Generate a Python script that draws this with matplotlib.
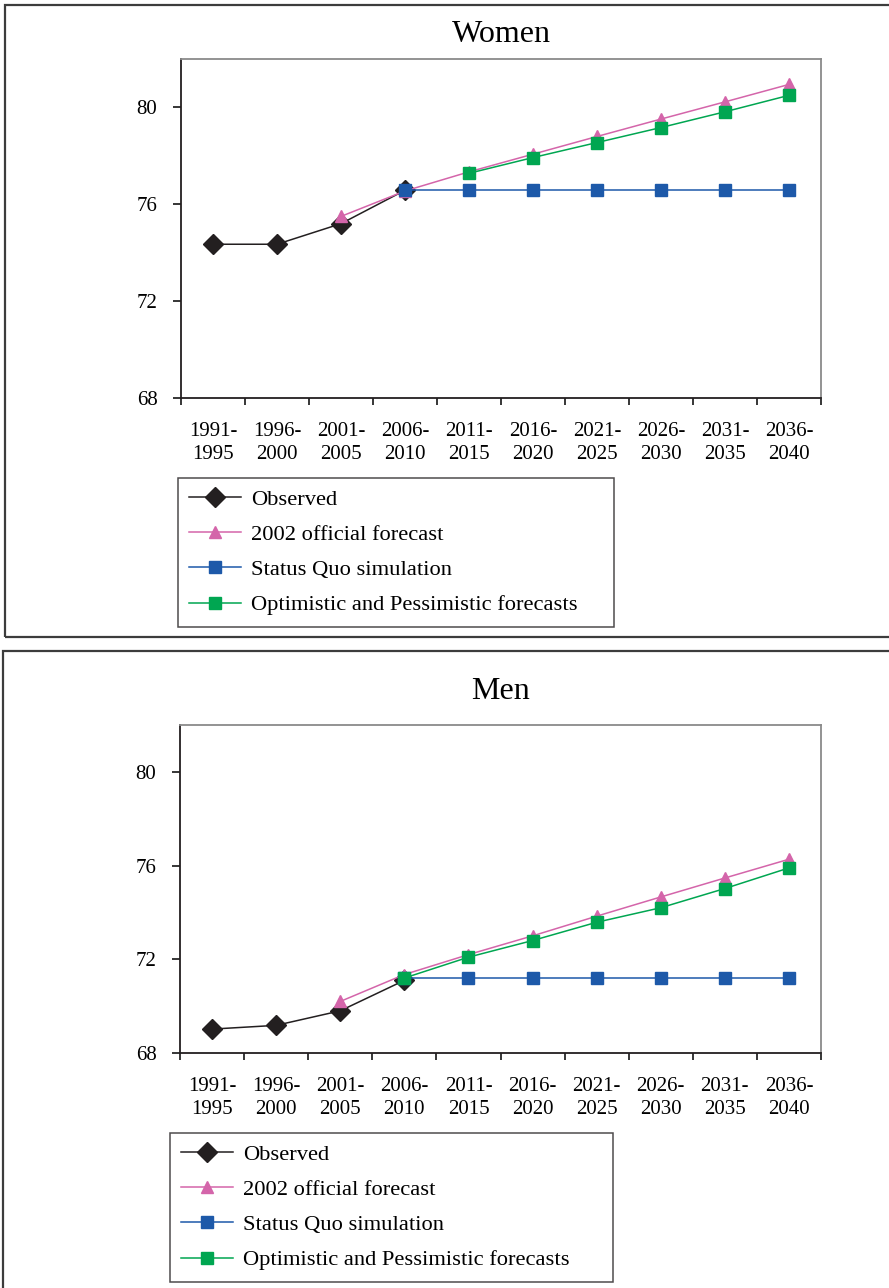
import numpy as np
import matplotlib
matplotlib.use("Agg")
import matplotlib.pyplot as plt
from matplotlib.patches import Rectangle

plt.rcParams["font.family"] = ["Liberation Serif", "DejaVu Serif"]

periods = ["1991-\n1995", "1996-\n2000", "2001-\n2005", "2006-\n2010", "2011-\n2015",
           "2016-\n2020", "2021-\n2025", "2026-\n2030", "2031-\n2035", "2036-\n2040"]

nan = np.nan
# women
w_observed = [74.35, 74.35, 75.2, 76.58, nan, nan, nan, nan, nan, nan]
w_official = [nan, nan, 75.5, 76.55, 77.34, 78.07, 78.8, 79.52, 80.23, 80.95]
w_status_quo = [nan, nan, nan, 76.58, 76.58, 76.58, 76.58, 76.58, 76.58, 76.58]
w_opt_pess = [nan, nan, nan, nan, 77.28, 77.93, 78.55, 79.17, 79.82, 80.5]
# men
m_observed = [69.02, 69.18, 69.8, 71.1, nan, nan, nan, nan, nan, nan]
m_official = [nan, nan, 70.2, 71.35, 72.2, 73.0, 73.84, 74.66, 75.47, 76.27]
m_status_quo = [nan, nan, nan, 71.2, 71.2, 71.2, 71.2, 71.2, 71.2, 71.2]
m_opt_pess = [nan, nan, nan, 71.2, 72.09, 72.8, 73.58, 74.2, 75.02, 75.9]

labels = ["Observed", "2002 official forecast", "Status Quo simulation",
          "Optimistic and Pessimistic forecasts"]
colors = ["#231f20", "#d465aa", "#1d59a9", "#00a651"]
markers = ["D", "^", "s", "s"]
msizes = [10, 9, 8, 8]

fig = plt.figure(figsize=(8.89, 12.88), dpi=100)

# panel frames
fig.patches.append(Rectangle((5 / 889, 1 - 637 / 1288), 900 / 889, 632 / 1288,
                             transform=fig.transFigure, fill=False,
                             edgecolor="#3c3c3c", linewidth=1.6))
fig.patches.append(Rectangle((3 / 889, -0.01), 900 / 889, 1 - 651 / 1288 + 0.01,
                             transform=fig.transFigure, fill=False,
                             edgecolor="#3c3c3c", linewidth=1.6))


def panel(rect, title, series, leg_box, title_pad):
    ax = fig.add_axes(rect)
    x = np.arange(len(periods))
    handles = []
    for vals, lab, c, m, ms in zip(series, labels, colors, markers, msizes):
        h, = ax.plot(x, vals, color=c, marker=m, markersize=ms, linewidth=1.1,
                     label=lab)
        handles.append(h)
    ax.set_xlim(-0.5, 9.5)
    ax.set_ylim(68, 82)
    ax.set_yticks([68, 72, 76, 80])
    ax.set_xticks(np.arange(-0.5, 10, 1))
    ax.set_xticklabels([])
    ax.set_xticks(x, minor=True)
    ax.set_xticklabels(periods, minor=True, linespacing=1.3)
    ax.tick_params(axis="x", which="minor", length=0, pad=17, labelsize=15)
    ax.tick_params(axis="x", which="major", length=5, width=1.1, direction="out")
    ax.tick_params(axis="y", length=6, width=1.1, pad=11, labelsize=15)
    for s in ["left", "bottom"]:
        ax.spines[s].set_color("#231f20")
        ax.spines[s].set_linewidth(1.3)
    for s in ["top", "right"]:
        ax.spines[s].set_color("#8a8a8a")
        ax.spines[s].set_linewidth(1.3)
    ax.set_title(title, fontsize=23, pad=title_pad)
    x0, y_top, w = leg_box
    leg = fig.legend(handles=handles, loc="upper left",
                     bbox_to_anchor=(x0 / 889, 1 - y_top / 1288, w / 889, 0),
                     mode="expand", borderaxespad=0, fontsize=16.2, frameon=True,
                     fancybox=False, edgecolor="#231f20", handlelength=2.3,
                     handletextpad=0.45, labelspacing=0.64, borderpad=0.5)
    leg.get_frame().set_linewidth(1.1)
    return ax


panel([181 / 889, 1 - 398 / 1288, 640 / 889, 339 / 1288], "Women",
      [w_observed, w_official, w_status_quo, w_opt_pess],
      (178, 478, 436), 12)
panel([180 / 889, 1 - 1053 / 1288, 641 / 889, 328 / 1288], "Men",
      [m_observed, m_official, m_status_quo, m_opt_pess],
      (170, 1133, 443), 19)

fig.savefig("out.png", dpi=100)
